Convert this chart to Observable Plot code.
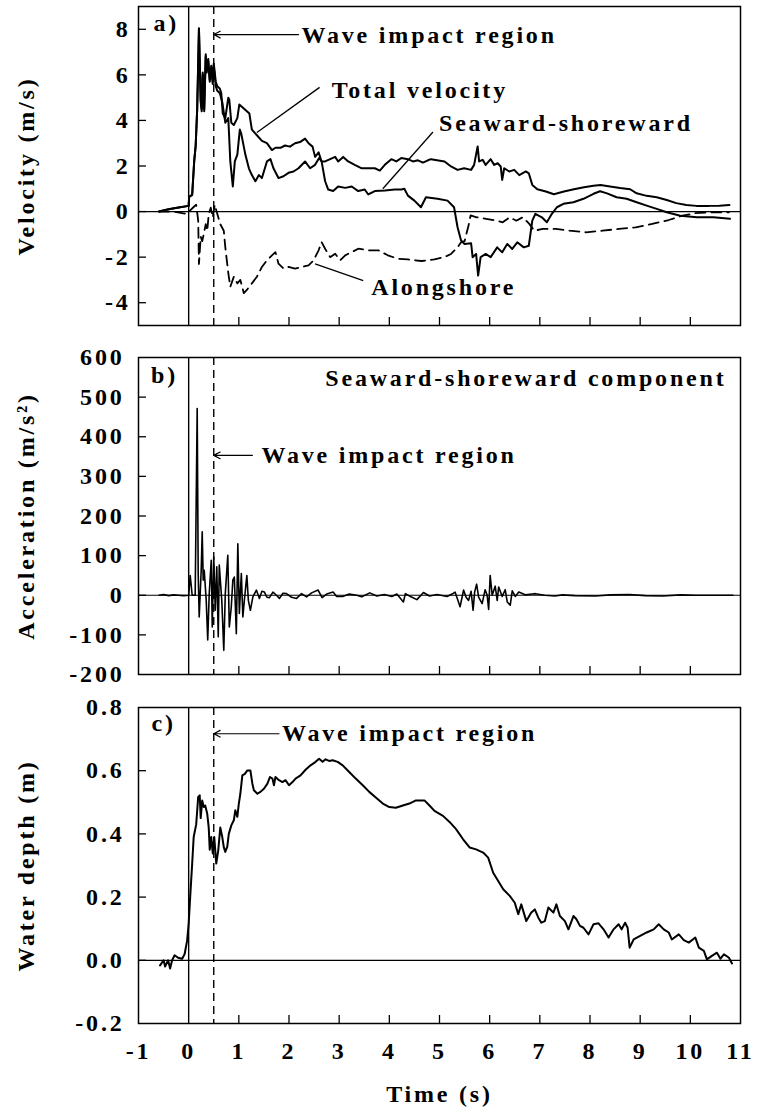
<!DOCTYPE html>
<html><head><meta charset="utf-8">
<script src="https://cdn.jsdelivr.net/npm/d3@7"></script>
<script src="https://cdn.jsdelivr.net/npm/@observablehq/plot@0.6"></script>
<style>
body{margin:0;background:#fff;}
#chart{position:relative;width:757px;height:1111px;background:#fff;}
#chart svg{position:absolute;left:0;background:transparent;}
</style></head><body><div id="chart"></div>
<script>
// ---------- shared x axis ----------
const timeDomain = [-1, 11];
const timeTickLabels = [-1,0,1,2,3,4,5,6,7,8,9,10,11];
const timeInnerTicks = [1,2,3,4,5,6,7,8,9,10];
const impactStart = 0;      // solid vertical line
const impactEnd = 0.5;      // dashed vertical line

// ---------- panel a: velocity (m/s) ----------
const velDomain = [-5, 9];
const velTickLabels = [-4,-2,0,2,4,6,8];
const totalVelocity = [[-0.59,0.0],[-0.4,0.1],[-0.2,0.18],[0.0,0.25],[0.01,0.65],[0.07,0.75],[0.11,2.2],[0.14,2.9],[0.17,4.5],[0.205,8.05],[0.24,4.9],[0.26,4.5],[0.28,6.1],[0.31,4.5],[0.34,6.9],[0.36,6.2],[0.39,6.7],[0.42,5.8],[0.45,6.4],[0.48,5.7],[0.50,6.5],[0.54,5.7],[0.57,5.5],[0.62,5.4],[0.65,5.2],[0.68,4.3],[0.73,4.1],[0.79,5.0],[0.81,4.9],[0.85,3.9],[0.90,3.8],[0.97,4.1],[1.01,4.7],[1.06,4.6],[1.16,4.4],[1.21,4.3],[1.26,3.6],[1.36,3.35],[1.46,3.1],[1.56,3.0],[1.66,2.7],[1.73,2.8],[1.83,2.8],[1.92,2.9],[2.02,2.85],[2.12,3.0],[2.22,3.05],[2.32,3.2],[2.39,3.0],[2.47,2.85],[2.52,2.4],[2.59,2.6],[2.65,2.2],[2.72,2.2],[2.82,2.3],[2.92,2.4],[2.98,2.2],[3.08,2.4],[3.18,2.2],[3.31,2.05],[3.45,1.9],[3.58,1.9],[3.71,1.9],[3.81,1.8],[3.91,2.05],[4.04,2.3],[4.14,2.2],[4.24,2.35],[4.37,2.3],[4.47,2.2],[4.57,2.25],[4.67,2.15],[4.77,2.25],[4.83,2.3],[5.10,2.2],[5.23,1.98],[5.36,1.83],[5.49,1.9],[5.63,1.83],[5.69,2.05],[5.76,2.86],[5.79,2.2],[5.86,2.27],[5.92,2.05],[6.02,2.3],[6.09,2.05],[6.16,2.12],[6.22,1.98],[6.25,1.39],[6.29,1.9],[6.39,1.76],[6.49,1.83],[6.59,1.6],[6.72,1.76],[6.78,1.68],[6.85,1.17],[6.95,0.98],[7.12,0.88],[7.28,0.76],[7.48,0.88],[7.68,0.98],[7.88,1.07],[8.07,1.13],[8.21,1.17],[8.40,1.1],[8.60,1.03],[8.80,0.98],[8.93,0.8],[9.13,0.69],[9.33,0.63],[9.53,0.51],[9.72,0.37],[9.92,0.29],[10.12,0.25],[10.38,0.25],[10.58,0.26],[10.78,0.29]];
const seawardShoreward = [[-0.59,0.0],[-0.4,0.1],[-0.2,0.18],[0.0,0.25],[0.01,0.65],[0.07,0.72],[0.11,2.2],[0.14,2.9],[0.17,4.5],[0.205,8.0],[0.24,4.8],[0.26,4.4],[0.28,6.0],[0.31,4.4],[0.34,6.8],[0.36,6.1],[0.39,6.6],[0.42,5.7],[0.45,6.3],[0.48,5.6],[0.50,6.4],[0.54,5.5],[0.57,5.3],[0.62,5.2],[0.67,4.8],[0.73,3.9],[0.79,4.1],[0.83,2.2],[0.88,1.1],[0.92,2.2],[0.97,2.5],[1.02,3.6],[1.05,3.4],[1.13,2.5],[1.20,1.9],[1.26,1.6],[1.33,1.33],[1.40,1.6],[1.46,1.47],[1.56,2.2],[1.63,2.3],[1.69,1.9],[1.79,1.47],[1.89,1.55],[1.99,1.7],[2.09,1.76],[2.19,1.9],[2.32,2.2],[2.42,1.9],[2.52,2.05],[2.60,2.35],[2.65,2.2],[2.72,1.33],[2.78,0.97],[2.88,0.9],[2.98,1.1],[3.12,1.04],[3.25,1.1],[3.38,0.9],[3.51,0.97],[3.58,0.75],[3.71,0.9],[3.91,0.92],[4.11,0.97],[4.24,0.97],[4.30,1.0],[4.37,0.7],[4.50,0.48],[4.63,0.19],[4.73,0.63],[4.96,0.56],[5.16,0.48],[5.29,0.19],[5.36,-0.69],[5.43,-1.27],[5.50,-1.42],[5.63,-1.39],[5.66,-2.0],[5.73,-1.86],[5.77,-2.81],[5.82,-2.0],[5.92,-1.86],[6.02,-2.0],[6.15,-1.57],[6.25,-1.79],[6.35,-1.42],[6.45,-1.64],[6.55,-1.35],[6.68,-1.57],[6.78,-1.5],[6.85,-0.4],[6.91,-0.1],[7.04,-0.25],[7.14,-0.47],[7.24,-0.1],[7.34,0.19],[7.47,0.34],[7.67,0.41],[7.87,0.56],[8.07,0.78],[8.20,0.89],[8.34,0.8],[8.53,0.63],[8.73,0.56],[8.93,0.41],[9.13,0.26],[9.33,0.12],[9.53,-0.03],[9.80,-0.18],[10.13,-0.25],[10.46,-0.25],[10.79,-0.32]];
const alongshore = [[-0.59,0.0],[-0.3,0.0],[-0.05,-0.1],[0.03,0.05],[0.1,0.2],[0.15,0.3],[0.19,-0.4],[0.205,-2.3],[0.24,-1.1],[0.27,-1.3],[0.30,-1.0],[0.34,-0.55],[0.37,-0.85],[0.40,-0.1],[0.44,0.17],[0.48,-0.26],[0.52,0.3],[0.57,-0.1],[0.63,-0.55],[0.70,-0.84],[0.73,-1.56],[0.79,-2.7],[0.83,-3.3],[0.90,-2.86],[0.97,-3.15],[1.03,-3.0],[1.10,-3.58],[1.16,-3.44],[1.26,-3.15],[1.36,-2.86],[1.46,-2.43],[1.56,-2.14],[1.66,-1.92],[1.73,-1.78],[1.79,-2.28],[1.89,-2.5],[1.99,-2.43],[2.12,-2.5],[2.26,-2.43],[2.39,-2.36],[2.49,-2.14],[2.59,-1.7],[2.65,-1.34],[2.72,-1.63],[2.82,-2.0],[2.92,-1.85],[3.02,-2.14],[3.12,-1.92],[3.25,-1.78],[3.38,-1.63],[3.58,-1.7],[3.78,-1.7],[3.97,-1.92],[4.17,-2.07],[4.37,-2.1],[4.64,-2.17],[4.90,-2.1],[5.10,-2.0],[5.23,-1.86],[5.36,-1.57],[5.43,-1.35],[5.50,-1.3],[5.58,-0.6],[5.62,-0.17],[5.74,-0.25],[5.93,-0.32],[6.13,-0.4],[6.26,-0.47],[6.40,-0.25],[6.53,-0.4],[6.66,-0.25],[6.79,-0.54],[6.89,-0.84],[7.06,-0.76],[7.32,-0.76],[7.59,-0.84],[7.92,-0.91],[8.25,-0.84],[8.58,-0.76],[8.91,-0.69],[9.24,-0.54],[9.57,-0.37],[9.84,-0.18],[10.1,-0.07],[10.44,-0.03],[10.77,-0.03]];
const velNotes = [{t:-0.7,y:8.26,text:"a)"},{t:2.25,y:7.73,text:"Wave impact region"},{t:2.85,y:5.3,text:"Total velocity"},{t:4.99,y:3.87,text:"Seaward-shoreward"},{t:3.64,y:-3.34,text:"Alongshore"}];
const velLeaders = [{t1:1.36,y1:3.47,t2:2.61,y2:5.45},{t1:3.87,y1:1.0,t2:4.87,y2:3.49},{t1:2.52,y1:-2.3,t2:3.48,y2:-3.03}];
const velArrow = [{t1:2.19,t2:0.5,y:7.77}];

// ---------- panel b: acceleration (m/s^2) ----------
const accDomain = [-200, 600];
const accTickLabels = [-200,-100,0,100,200,300,400,500,600];
const accInnerTicks = [-100,0,100,200,300,400,500];
const acceleration = [[-0.59,0],[-0.5,2],[-0.4,-1],[-0.3,1],[-0.2,0],[-0.1,-1],[0.0,0],[0.03,50],[0.07,0],[0.13,0],[0.17,471],[0.19,55],[0.21,-55],[0.25,63],[0.27,160],[0.29,38],[0.31,63],[0.35,-13],[0.38,-113],[0.41,4],[0.45,88],[0.47,-80],[0.50,97],[0.53,-38],[0.56,72],[0.59,-105],[0.61,76],[0.66,-13],[0.70,-139],[0.73,4],[0.78,101],[0.81,-80],[0.85,-29],[0.88,38],[0.91,46],[0.95,-97],[0.98,130],[1.01,-46],[1.05,55],[1.08,-55],[1.11,-13],[1.16,50],[1.19,-13],[1.23,-38],[1.28,-4],[1.35,13],[1.41,-8],[1.46,10],[1.51,8],[1.56,-5],[1.61,-6],[1.68,8],[1.75,0],[1.81,-8],[1.88,5],[1.95,4],[2.05,-5],[2.15,-8],[2.25,4],[2.35,-4],[2.45,6],[2.58,13],[2.66,-6],[2.75,3],[2.88,8],[2.95,-3],[3.07,-3],[3.2,3],[3.35,0],[3.45,-4],[3.61,6],[3.75,-2],[3.9,2],[4.05,-3],[4.15,3],[4.28,-17],[4.32,4],[4.42,-3],[4.55,-11],[4.68,7],[4.8,-2],[4.95,2],[5.15,-3],[5.25,3],[5.31,8],[5.36,-10],[5.41,-29],[5.48,13],[5.53,-5],[5.58,-13],[5.63,10],[5.67,-38],[5.70,8],[5.74,28],[5.78,-5],[5.85,-21],[5.91,14],[5.95,0],[5.98,-36],[6.01,50],[6.05,0],[6.11,23],[6.15,-13],[6.18,21],[6.25,-3],[6.31,14],[6.35,-17],[6.41,-25],[6.45,11],[6.51,-3],[6.58,8],[6.71,1],[6.85,3],[6.91,4],[7.1,0],[7.3,-2],[7.45,1],[7.7,-1],[8.11,-2],[8.4,1],[8.78,2],[9.1,-1],[9.45,-2],[9.8,1],[10.11,0],[10.58,0],[10.85,0]];
const accNotesStart = [{t:-0.75,y:555,text:"b)"},{t:1.45,y:353,text:"Wave impact region"}];
const accNotesEnd = [{t:10.72,y:548,text:"Seaward-shoreward component"}];
const accArrow = [{t1:1.27,t2:0.5,y:353}];

// ---------- panel c: water depth (m) ----------
const depthDomain = [-0.2, 0.8];
const depthTickLabels = [-0.2,0.0,0.2,0.4,0.6,0.8];
const depthInnerTicks = [0.0,0.2,0.4,0.6];
const waterDepth = [[-0.57,-0.016],[-0.5,0.0],[-0.47,-0.02],[-0.41,0.0],[-0.37,-0.026],[-0.33,0.0],[-0.28,0.016],[-0.21,0.008],[-0.13,0.005],[-0.08,0.02],[-0.03,0.063],[0.0,0.116],[0.03,0.2],[0.07,0.306],[0.10,0.39],[0.15,0.43],[0.19,0.517],[0.22,0.522],[0.24,0.45],[0.27,0.506],[0.30,0.485],[0.33,0.49],[0.37,0.464],[0.40,0.42],[0.42,0.35],[0.45,0.39],[0.48,0.338],[0.51,0.39],[0.55,0.306],[0.59,0.348],[0.63,0.42],[0.67,0.39],[0.70,0.358],[0.73,0.343],[0.77,0.36],[0.80,0.4],[0.85,0.427],[0.90,0.443],[0.93,0.475],[0.97,0.454],[1.0,0.496],[1.03,0.527],[1.07,0.585],[1.12,0.59],[1.17,0.601],[1.23,0.601],[1.27,0.559],[1.30,0.538],[1.37,0.527],[1.43,0.533],[1.50,0.543],[1.57,0.559],[1.62,0.58],[1.67,0.575],[1.70,0.554],[1.73,0.58],[1.80,0.57],[1.87,0.564],[1.93,0.57],[2.0,0.554],[2.07,0.564],[2.13,0.575],[2.23,0.585],[2.33,0.603],[2.43,0.617],[2.53,0.628],[2.60,0.638],[2.67,0.628],[2.73,0.636],[2.80,0.631],[2.87,0.633],[2.97,0.628],[3.07,0.617],[3.20,0.596],[3.33,0.575],[3.47,0.554],[3.60,0.533],[3.73,0.515],[3.87,0.496],[4.0,0.485],[4.13,0.483],[4.27,0.49],[4.40,0.496],[4.53,0.506],[4.70,0.506],[4.80,0.49],[4.90,0.473],[5.07,0.457],[5.2,0.438],[5.33,0.415],[5.47,0.383],[5.6,0.357],[5.73,0.351],[5.87,0.341],[5.97,0.325],[6.07,0.277],[6.17,0.251],[6.27,0.225],[6.4,0.204],[6.5,0.182],[6.57,0.146],[6.63,0.177],[6.73,0.124],[6.83,0.151],[6.9,0.161],[6.97,0.135],[7.03,0.119],[7.1,0.124],[7.17,0.167],[7.27,0.151],[7.33,0.177],[7.4,0.14],[7.5,0.124],[7.57,0.098],[7.67,0.14],[7.73,0.13],[7.8,0.109],[7.87,0.103],[7.97,0.082],[8.07,0.114],[8.17,0.117],[8.27,0.098],[8.37,0.072],[8.47,0.098],[8.57,0.114],[8.63,0.098],[8.7,0.119],[8.75,0.103],[8.79,0.04],[8.87,0.066],[9.0,0.077],[9.13,0.088],[9.27,0.098],[9.37,0.114],[9.47,0.098],[9.57,0.088],[9.63,0.066],[9.77,0.082],[9.87,0.064],[9.97,0.056],[10.1,0.072],[10.17,0.04],[10.27,0.03],[10.33,0.003],[10.43,0.014],[10.53,0.024],[10.6,0.005],[10.67,0.019],[10.77,0.008],[10.83,-0.01]];
const depthNotes = [{t:-0.74,y:0.75,text:"c)"},{t:1.86,y:0.717,text:"Wave impact region"}];
const depthArrow = [{t1:1.8,t2:0.5,y:0.717}];

// ---------- layout ----------
const W = 757, ML = 138, MR = 17;
const plotW = W - ML - MR;
const font = {fontFamily: '"Liberation Serif", "Times New Roman", serif', fontSize: "24px", fontWeight: "bold", letterSpacing: "2.8px", color: "black", background: "transparent", overflow: "visible"};

function panel({top, height, marginTop, marginBottom, yDomain, yTickLabels, yInner, yFormat, yLabel, yPad, showTime, marks}) {
  const plotH = height - marginTop - marginBottom;
  const axes = [
    Plot.axisY(yTickLabels, {anchor: "left", tickSize: 0, tickPadding: yPad, tickFormat: yFormat,
      label: yLabel, labelAnchor: "center", labelArrow: "none", labelOffset: 122}),
    Plot.tickY(yInner, {y: d => d, insetRight: plotW - 8, stroke: "black", strokeWidth: 1.3}),
    Plot.tickX(timeInnerTicks, {x: d => d, insetTop: plotH - 8, stroke: "black", strokeWidth: 1.3})
  ];
  if (showTime) axes.push(Plot.axisX(timeTickLabels, {anchor: "bottom", tickSize: 0, tickPadding: 18, tickFormat: d => String(d),
      label: "Time (s)", labelAnchor: "center", labelArrow: "none", labelOffset: 78}));
  const svg = Plot.plot({
    width: W, height, marginLeft: ML, marginRight: MR, marginTop, marginBottom,
    style: font,
    x: {domain: timeDomain, axis: showTime ? undefined : null},
    y: {domain: yDomain},
    marks: [
      ...axes,
      Plot.ruleY([0], {stroke: "black", strokeWidth: 1.2}),
      Plot.ruleX([impactStart], {stroke: "black", strokeWidth: 1.4}),
      Plot.ruleX([impactEnd], {stroke: "black", strokeWidth: 1.4, strokeDasharray: "8,5"}),
      ...marks,
      Plot.frame({stroke: "black", strokeWidth: 1.5})
    ]
  });
  svg.style.top = top + "px";
  return svg;
}

const line = (data, extra = {}) => Plot.line(data, {x: d => d[0], y: d => d[1], stroke: "black", strokeWidth: 2, ...extra});
const arrowMark = (data) => Plot.arrow(data, {x1: "t1", x2: "t2", y1: "y", y2: "y", stroke: "black", strokeWidth: 1.2, headLength: 9, headAngle: 55});
const notes = (data, anchor) => Plot.text(data, {x: "t", y: "y", text: "text", textAnchor: anchor, lineAnchor: "middle", fill: "black"});

const chart = document.getElementById("chart");

chart.append(panel({
  top: 0, height: 335, marginTop: 6, marginBottom: 10,
  yDomain: velDomain, yTickLabels: velTickLabels, yInner: velTickLabels, yFormat: d => String(d),
  yLabel: "Velocity (m/s)", yPad: 8, showTime: false,
  marks: [
    line(alongshore, {strokeDasharray: "10,6", strokeWidth: 1.8}),
    line(seawardShoreward),
    line(totalVelocity),
    Plot.link(velLeaders, {x1: "t1", y1: "y1", x2: "t2", y2: "y2", stroke: "black", strokeWidth: 1.3}),
    arrowMark(velArrow),
    notes(velNotes, "start")
  ]
}));

chart.append(panel({
  top: 335, height: 345, marginTop: 22, marginBottom: 6,
  yDomain: accDomain, yTickLabels: accTickLabels, yInner: accInnerTicks, yFormat: d => String(d),
  yLabel: "Acceleration (m/s²)", yPad: 14, showTime: false,
  marks: [
    line(acceleration, {strokeWidth: 1.6}),
    arrowMark(accArrow),
    notes(accNotesStart, "start"),
    notes(accNotesEnd, "end")
  ]
}));

chart.append(panel({
  top: 680, height: 431, marginTop: 27, marginBottom: 88,
  yDomain: depthDomain, yTickLabels: depthTickLabels, yInner: depthInnerTicks, yFormat: d => d.toFixed(1),
  yLabel: "Water depth (m)", yPad: 14, showTime: true,
  marks: [
    line(waterDepth),
    arrowMark(depthArrow),
    notes(depthNotes, "start")
  ]
}));
</script></body></html>
